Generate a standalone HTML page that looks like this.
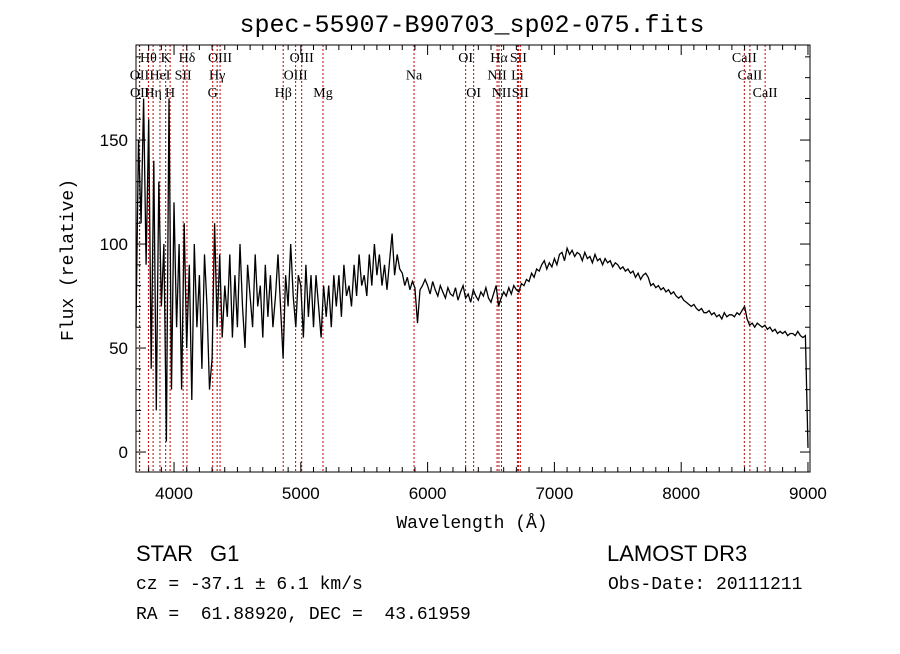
<!DOCTYPE html>
<html><head><meta charset="utf-8"><style>
body{margin:0;background:#fff;}
svg text{font-family:"Liberation Serif",serif;white-space:pre;}
</style></head><body>
<svg id="chart" width="900" height="649" viewBox="0 0 900 649" xmlns="http://www.w3.org/2000/svg">
<rect width="900" height="649" fill="#fff"/>
<text x="472" y="32" text-anchor="middle" font-size="25" style="font-family:'Liberation Mono',monospace">spec-55907-B90703_sp02-075.fits</text>
<g id="lines"></g>
<g id="spec"></g>
<g id="axes"></g>
<text x="472" y="528" text-anchor="middle" font-size="18" style="font-family:'Liberation Mono',monospace">Wavelength (Å)</text>
<text transform="translate(73,260) rotate(-90)" text-anchor="middle" font-size="18" style="font-family:'Liberation Mono',monospace">Flux (relative)</text>
<text x="136" y="561" font-size="22" style="font-family:'Liberation Sans',sans-serif">STAR</text>
<text x="210" y="561" font-size="22" style="font-family:'Liberation Sans',sans-serif">G1</text>
<text x="607" y="561" font-size="22" style="font-family:'Liberation Sans',sans-serif">LAMOST DR3</text>
<text x="136" y="589" font-size="18" style="font-family:'Liberation Mono',monospace">cz = -37.1 ± 6.1 km/s</text>
<text x="608" y="589" font-size="18" style="font-family:'Liberation Mono',monospace">Obs-Date: 20111211</text>
<text x="136" y="619" font-size="18" xml:space="preserve" style="font-family:'Liberation Mono',monospace;white-space:pre">RA =  61.88920, DEC =  43.61959</text>
</svg>
<script>
const blueFlux=[60,150,110,170,90,160,40,140,20,130,70,100,5,170,30,120,60,100,30,110,50,90,25,100,60,85,40,95,70,30,45,110,60,95,55,80,65,95,55,85,60,100,70,50,90,75,60,95,70,80,55,90,65,85,60,75,95,70,45,85,70,100,75,60,85,80,55,90,65,85,60,85,70,55,80,65,80,60,85,70,85,65,90,75,80,70,90,75,95,80,85,75,95,80,100,85,95,80,90,78,92,105,85,95,88];
const redFlux=[86,80,84,78,82,79,62,78,80,83,80,76,82,78,75,80,77,74,79,76,75,79,73,77,80,74,76,72,78,75,73,77,75,79,74,72,76,80,70,74,77,75,79,76,80,78,77,81,80,83,82,86,84,88,87,90,92,88,91,89,93,90,95,96,92,98,95,97,94,96,95,92,96,93,94,91,95,92,93,90,93,91,92,89,91,90,88,89,87,88,86,87,84,86,83,85,86,84,80,81,79,80,78,79,77,78,76,77,75,74,75,73,72,71,70,71,69,68,69,67,67,68,66,67,65,66,64,67,65,66,66,65,67,66,68,70,64,61,62,60,62,61,60,61,59,60,58,59,57,58,57,58,56,57,57,56,58,56,55,56,2];
const lineWaves=[3798,3934,4102,4363,5007,6300,6563,6716,8498,3727,3889,4072,4340,4959,5893,6548,6708,8542,3729,3835,3969,4305,4861,5175,6363,6583,6731,8662];
const lineNames=["Hθ","K","Hδ","OIII","OIII","OI","Hα","SII","CaII","OII","HeI","SII","Hγ","OIII","Na","NII","Li","CaII","OII","Hη","H","G","Hβ","Mg","OI","NII","SII","CaII"];
const lineRows=[0,0,0,0,0,0,0,0,0,1,1,1,1,1,1,1,1,1,2,2,2,2,2,2,2,2,2,2];
const xTicks=[4000,5000,6000,7000,8000,9000];
const yTicks=[0,50,100,150];
const X0=136,X1=810,Y0=45,Y1=472,WMIN=3700,WMAX=9016,FMIN=-9.6,FMAX=195.7;
const xs=w=>X0+(w-WMIN)/(WMAX-WMIN)*(X1-X0);
const ys=v=>Y1-(v-FMIN)/(FMAX-FMIN)*(Y1-Y0);
const NS="http://www.w3.org/2000/svg";
function mk(tag,attrs,parent){const e=document.createElementNS(NS,tag);for(const k in attrs)e.setAttribute(k,attrs[k]);parent.appendChild(e);return e;}
const gL=document.getElementById('lines'),gS=document.getElementById('spec'),gA=document.getElementById('axes');
lineWaves.forEach((w,i)=>{const x=xs(w);
 const l=mk('line',{x1:x,x2:x,y1:Y0,y2:Y1,stroke:'#c00000','stroke-width':1,'stroke-dasharray':'2,2'},gL);
 
 
 const t=mk('text',{x:x,y:62+lineRows[i]*17.5,'text-anchor':'middle','font-size':14},gL);
 t.textContent=lineNames[i];
 
 
});
const waves=[],flux=[];
blueFlux.forEach((v,i)=>{waves.push(3700+i*20);flux.push(v);});
redFlux.forEach((v,i)=>{waves.push(5800+i*20);flux.push(v);});
let d='';waves.forEach((w,i)=>{d+=(i?'L':'M')+xs(w).toFixed(1)+','+ys(flux[i]).toFixed(1);});
const p=mk('path',{d:d,fill:'none',stroke:'#000','stroke-width':1.3},gS);


const fr=mk('rect',{x:X0,y:Y0,width:X1-X0,height:Y1-Y0,fill:'none',stroke:'#000','stroke-width':1},gA);


for(let w=3700;w<=9000;w+=100){const x=xs(w),L=(w%1000===0)?10:5;
 mk('line',{x1:x,x2:x,y1:Y1,y2:Y1-L,stroke:'#000'},gA);mk('line',{x1:x,x2:x,y1:Y0,y2:Y0+L,stroke:'#000'},gA);}
for(let v=0;v<=190;v+=10){const y=ys(v),L=(v%50===0)?10:5;
 mk('line',{x1:X0,x2:X0+L,y1:y,y2:y,stroke:'#000'},gA);mk('line',{x1:X1,x2:X1-L,y1:y,y2:y,stroke:'#000'},gA);}
xTicks.forEach(w=>{const t=mk('text',{x:xs(w),y:Y1+27,'text-anchor':'middle','font-size':17},gA);t.style.fontFamily="'Liberation Sans',sans-serif";t.textContent=w;
 
 });
yTicks.forEach(v=>{const t=mk('text',{x:X0-8,y:ys(v)+6,'text-anchor':'end','font-size':17},gA);t.style.fontFamily="'Liberation Sans',sans-serif";t.textContent=v;
 
 });
</script>
</body></html>
